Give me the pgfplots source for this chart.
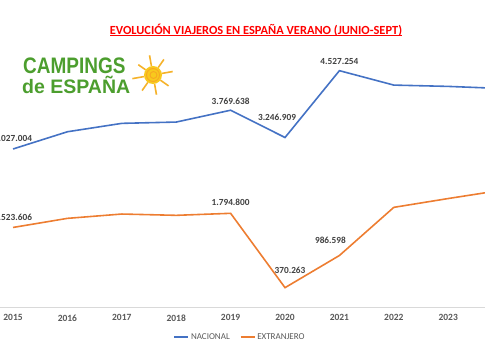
\documentclass[border=0pt]{standalone}
\usepackage{pgfplots}
\pgfplotsset{compat=1.18}
\usepackage{pgfplotstable}
\usepackage{fontspec}
\setmainfont{Carlito}
\newfontfamily\logofont{Liberation Sans}
\definecolor{nac}{HTML}{4472C4}
\definecolor{ext}{HTML}{ED7D31}
\definecolor{lbl}{HTML}{404040}
\definecolor{tck}{HTML}{595959}
\definecolor{logogreen}{HTML}{4C9E2E}
\definecolor{sun}{HTML}{F5B22A}

\pgfplotstableread{
x y lab dx dy
2015 3027004 3.027.004 0 11
2016 3357000 {} 0 10
2017 3518000 {} 0 10
2018 3543000 {} 0 10
2019 3769638 3.769.638 0 9
2020 3246909 3.246.909 -8 20
2021 4527254 4.527.254 0 9
2022 4251000 {} 0 10
2023 4226000 {} 0 10
2024 4185000 4.185.000 0 10
}\nacional
\pgfplotstableread{
x y lab dx dy
2015 1523606 1.523.606 0 10
2016 1698000 {} 0 10
2017 1781000 {} 0 10
2018 1756000 {} 0 10
2019 1794800 1.794.800 0 11
2020 370263 370.263 5 17
2021 986598 986.598 -9 15
2022 1909000 {} 0 10
2023 2078000 {} 0 10
2024 2240000 2.240.000 0 11
}\extranjero

\begin{document}
\begin{tikzpicture}
\begin{axis}[
  at={(0,0)}, anchor=south west,
  scale only axis,
  width=485bp, height=261bp,
  xmin=2014.761, xmax=2023.676,
  ymin=0, ymax=5000000,
  axis y line=none,
  axis x line*=bottom,
  x axis line style={draw=black!15, line width=0.8pt, -},
  xtick={2015,2016,2017,2018,2019,2020,2021,2022,2023},
  xticklabels={2015,2016,2017,2018,2019,2020,2021,2022,2023},
  major tick length=0pt,
  xticklabel style={font=\fontsize{9.5bp}{11bp}\selectfont\bfseries, text=tck, yshift=-4bp},
  nodes near coords,
  point meta=explicit symbolic,
  visualization depends on={\thisrow{dx} \as \dx},
  visualization depends on={\thisrow{dy} \as \dy},
  nodes near coords style={anchor=center, xshift=\dx bp, yshift=\dy bp,
     font=\fontsize{9.3bp}{11bp}\selectfont\bfseries, text=lbl, inner sep=0pt},
  legend style={at={(axis description cs:0.495,-0.115)}, anchor=center, draw=none,
     fill=none, font=\fontsize{9bp}{11bp}\selectfont, text=tck, legend columns=2,
     /tikz/every even column/.append style={column sep=8bp}, inner sep=0pt,
     legend cell align=left},
  legend image code/.code={\draw[#1, line width=1.5pt] (0,0) -- (14bp,0);},
]
\addplot[nac, line width=1.6pt] table[x=x, y=y, meta=lab] {\nacional};
\addlegendentry{NACIONAL}
\addplot[ext, line width=1.6pt] table[x=x, y=y, meta=lab] {\extranjero};
\addlegendentry{EXTRANJERO}
\end{axis}
% title
\node[anchor=center, text=red, font=\fontsize{12.4bp}{14bp}\selectfont\bfseries] at (256bp,277bp) {EVOLUCIÓN VIAJEROS EN ESPAÑA VERANO (JUNIO-SEPT)};
\draw[red, line width=0.8pt] (110bp,271.3bp) -- (402bp,271.3bp);
% logo
\node[anchor=base west, inner sep=0pt, text=logogreen] at (23bp,233bp) {\scalebox{1}[1.18]{\logofont\bfseries\fontsize{19bp}{20bp}\selectfont CAMPINGS}};
\node[anchor=base west, inner sep=0pt, text=logogreen] at (22bp,213bp) {\logofont\bfseries\fontsize{19.5bp}{20bp}\selectfont de ESPAÑA};
\begin{scope}[shift={(153bp,232bp)}]
  \foreach \a/\r in {10/20,55/19,100/20,145/18,190/21,235/19,280/20,325/19}{
    \draw[sun, line width=1.6pt] (\a:9bp) -- (\a:\r bp);
  }
  \fill[sun!70!yellow] (0,0) circle (9bp);
  \draw[sun!80!orange, line width=0.9pt] (0,0) circle (6.5bp);
  \draw[sun!80!orange, line width=0.9pt] (0.5bp,0) circle (3.5bp);
\end{scope}
\pgfresetboundingbox
\useasboundingbox (0,-53bp) rectangle (485bp,307bp);
\end{tikzpicture}
\end{document}
